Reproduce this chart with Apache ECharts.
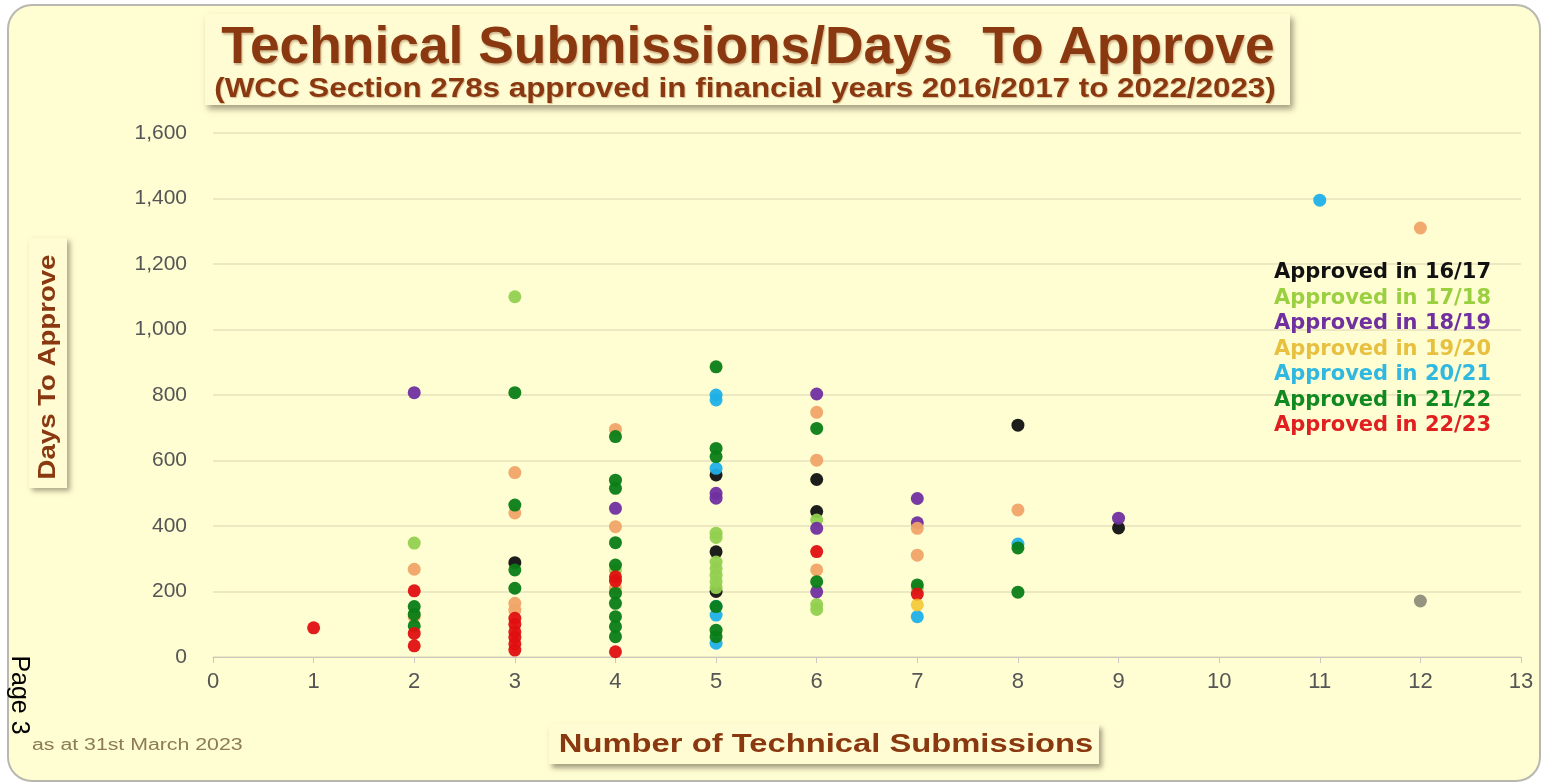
<!DOCTYPE html>
<html><head><meta charset="utf-8">
<script src="https://cdn.jsdelivr.net/npm/echarts@6/dist/echarts.min.js"></script>
<style>html,body{margin:0;padding:0;background:#fff;}#c{width:1543px;height:784px;}</style>
</head><body><div id="c"></div>
<script>
const xTicks = [0,1,2,3,4,5,6,7,8,9,10,11,12,13];
const yTicks = [0,200,400,600,800,1000,1200,1400,1600];
const seriesNames = ['Approved in 16/17','Approved in 17/18','Approved in 18/19','Approved in 19/20','Approved in 20/21','Approved in 21/22','Approved in 22/23'];
const pointColors = ['#111111','#92d050','#7030a0','#f0a468','#1fb0e8','#0a7d16','#e01010'];
const legendColors = ['#111111','#9ad040','#7030a0','#e8c040','#30b8e0','#108a20','#e02020'];

const d1617 = [[3,288],[5,556],[5,321],[5,200],[6,542],[6,444],[8,708],[9,394]];
const d1718 = [[2,348],[3,1100],[4,266],[5,378],[5,365],[5,290],[5,270],[5,250],[5,230],[5,212],[6,418],[6,160],[6,145],[7,210]];
const d1819 = [[2,807],[4,454],[5,500],[5,485],[6,803],[6,393],[6,199],[7,484],[7,410],[9,424]];
const d1920 = [[2,268],[2,123],[3,563],[3,440],[3,164],[3,143],[4,695],[4,398],[4,211],[6,747],[6,601],[6,266],[7,393],[7,311],[8,449],[12,1310]];
const d2021 = [[5,800],[5,785],[5,576],[5,155],[5,128],[5,42],[7,123],[8,345],[11,1395]];
const d2122 = [[2,154],[2,130],[2,95],[3,807],[3,464],[3,266],[3,210],[4,673],[4,540],[4,515],[4,349],[4,281],[4,195],[4,164],[4,123],[4,93],[4,62],[5,886],[5,637],[5,612],[5,154],[5,82],[5,62],[6,698],[6,230],[7,220],[8,333],[8,198]];
const d2223 = [[1,89],[2,202],[2,72],[2,34],[3,118],[3,100],[3,77],[3,60],[3,40],[3,21],[4,245],[4,232],[4,16],[6,322],[7,192]];
const dYellow = [[7,159]];
const dGray = [[12,171]];
const allData = [d1617,d1718,d1819,d1920,d2021,d2122,d2223];

const brown = '#8a3810';
const chart = echarts.init(document.getElementById('c'));
const series = allData.map((d,i)=>({
  name: seriesNames[i], type:'scatter', data:d, symbolSize:13,
  itemStyle:{color:pointColors[i], opacity:0.95}
}));
series.push({name:'y', type:'scatter', data:dYellow, symbolSize:13, itemStyle:{color:'#f2c020'}});
series.push({name:'g', type:'scatter', data:dGray, symbolSize:13, itemStyle:{color:'#7a7a6a'}});

chart.setOption({
  backgroundColor:'#ffffff',
  animation:false,
  grid:{left:213, right:22, top:133, bottom:127},
  xAxis:{type:'value', min:0, max:13, interval:1,
    axisLine:{show:true, lineStyle:{color:'#c8c8c0'}},
    axisTick:{show:true, length:6, lineStyle:{color:'#c8c8c0'}},
    splitLine:{show:false},
    axisLabel:{color:'#555555', fontSize:22, fontFamily:'Liberation Sans, Arial', margin:14,
      formatter:v=>xTicks.includes(v)?String(v):''}},
  yAxis:{type:'value', min:0, max:1600, interval:200,
    axisLine:{show:false}, axisTick:{show:false},
    splitLine:{show:true, lineStyle:{color:'#e6e0bc', width:1.5}},
    axisLabel:{color:'#555555', fontSize:21, fontFamily:'Liberation Sans, Arial', margin:26,
      formatter:v=>yTicks.includes(v)?v.toLocaleString('en-US'):''}},
  legend:{
    data: seriesNames.map((n,i)=>({name:n, textStyle:{color:legendColors[i]}})),
    orient:'vertical', right:52, top:262, icon:'none', itemGap:4, itemWidth:0, itemHeight:22,
    padding:0, selectedMode:false,
    textStyle:{fontSize:21, fontWeight:'bold', fontFamily:'DejaVu Sans', padding:[0,0,0,-5]}
  },
  graphic:[
    {type:'rect', z:-10, shape:{x:8,y:5,width:1532,height:776,r:24},
      style:{fill:'#fffdd2', stroke:'#b8b8b0', lineWidth:2}},
    {type:'rect', z:-5, shape:{x:205,y:14,width:1085,height:91},
      style:{fill:'#fffbd2', shadowBlur:6, shadowOffsetX:3, shadowOffsetY:4, shadowColor:'rgba(90,80,60,0.55)'}},
    {type:'text', x:748, y:49, scaleX:1.046, style:{text:'Technical Submissions/Days  To Approve',
      fill:brown, font:'bold 51px "Liberation Sans", Arial', textAlign:'center', textVerticalAlign:'middle',
      textShadowColor:'rgba(120,60,20,0.35)', textShadowOffsetX:1, textShadowOffsetY:2, textShadowBlur:2}},
    {type:'text', x:745, y:89, scaleX:1.12, style:{text:'(WCC Section 278s approved in financial years 2016/2017 to 2022/2023)',
      fill:brown, font:'bold 28px "Liberation Sans", Arial', textAlign:'center', textVerticalAlign:'middle',
      textShadowColor:'rgba(120,60,20,0.3)', textShadowOffsetX:1, textShadowOffsetY:1, textShadowBlur:1}},
    {type:'rect', z:-5, shape:{x:29,y:238,width:38,height:250},
      style:{fill:'#fffbd2', shadowBlur:5, shadowOffsetX:3, shadowOffsetY:3, shadowColor:'rgba(90,80,60,0.5)'}},
    {type:'text', x:48, y:367, rotation:Math.PI/2, scaleX:1.15, style:{text:'Days To Approve', fill:brown,
      font:'bold 24px "Liberation Sans", Arial', textAlign:'center', textVerticalAlign:'middle'}},
    {type:'rect', z:-5, shape:{x:549,y:724,width:550,height:40},
      style:{fill:'#fffbd2', shadowBlur:5, shadowOffsetX:3, shadowOffsetY:4, shadowColor:'rgba(90,80,60,0.55)'}},
    {type:'text', x:826, y:745, scaleX:1.31, style:{text:'Number of Technical Submissions', fill:brown,
      font:'bold 25px "Liberation Sans", Arial', textAlign:'center', textVerticalAlign:'middle'}},
    {type:'text', x:32, y:746, scaleX:1.33, style:{text:'as at 31st March 2023', fill:'#8c7b55',
      font:'16px "Liberation Sans", Arial', textVerticalAlign:'middle'}},
    {type:'text', x:19, y:695, rotation:-Math.PI/2, style:{text:'Page 3', fill:'#000000',
      font:'25px "Liberation Sans", Arial', textAlign:'center', textVerticalAlign:'middle'}}
  ],
  series: series
});
</script></body></html>
